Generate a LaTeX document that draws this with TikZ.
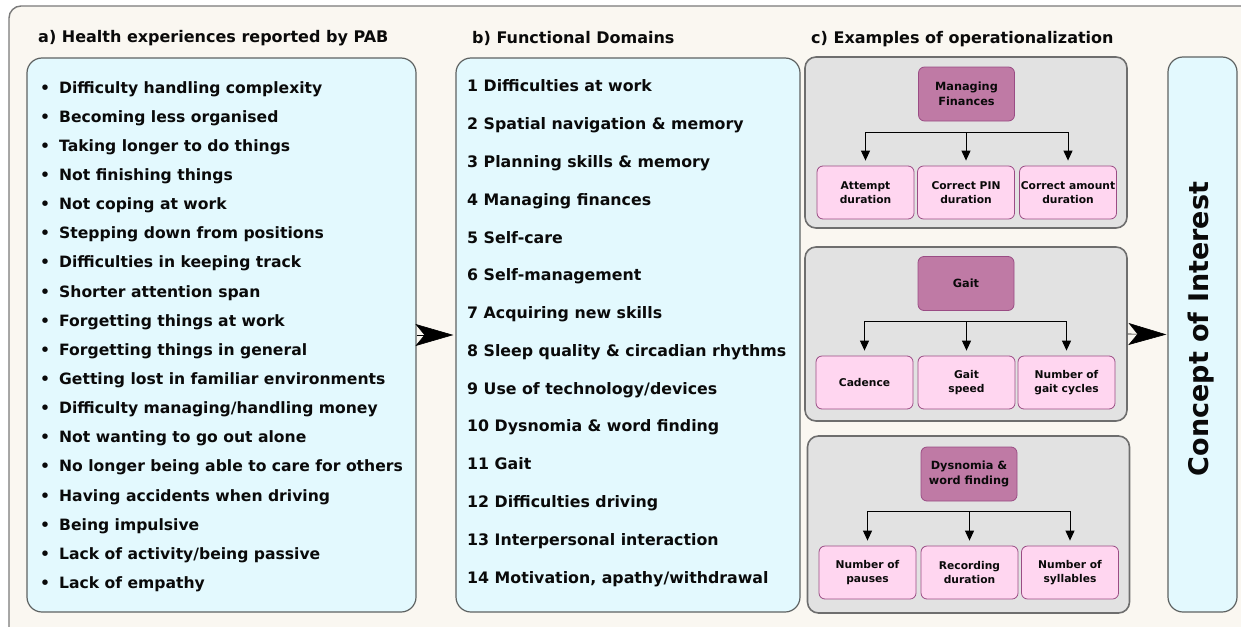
\documentclass[tikz,border=0pt]{standalone}
\usepackage{fontspec}
\setmainfont{DejaVu Sans}
\usetikzlibrary{arrows.meta}

\definecolor{cream}{HTML}{FAF7F1}
\definecolor{framegray}{HTML}{7A7A7A}
\definecolor{listfill}{HTML}{E3F9FE}
\definecolor{listline}{HTML}{5E6262}
\definecolor{panelfill}{HTML}{E2E2E2}
\definecolor{panelline}{HTML}{6E6E6E}
\definecolor{headfill}{HTML}{BF7AA5}
\definecolor{plumline}{HTML}{9A4C84}
\definecolor{childfill}{HTML}{FFD6F0}
\definecolor{ink}{HTML}{0A0A0A}

\tikzset{
  listbox/.style={draw=listline, fill=listfill, line width=1.2pt, rounded corners=15pt, inner sep=0pt},
  panel/.style={draw=panelline, fill=panelfill, line width=1.6pt, rounded corners=11pt,
    minimum width=322pt, inner sep=0pt},
  headbox/.style={draw=plumline, fill=headfill, line width=0.8pt, rounded corners=6pt,
    minimum width=96pt, minimum height=54pt, inner sep=0pt, align=center,
    font=\bfseries\fontsize{11.3}{14.5}\selectfont, text=ink},
  childbox/.style={draw=plumline, fill=childfill, line width=0.8pt, rounded corners=6pt,
    minimum width=97pt, minimum height=53pt, inner sep=0pt, align=center,
    font=\bfseries\fontsize{10.7}{13.5}\selectfont, text=ink},
  sectitle/.style={anchor=base west, inner sep=0pt, font=\bfseries\fontsize{16}{19}\selectfont, text=ink},
  bulletitem/.style={anchor=base west, inner sep=0pt, font=\bfseries\fontsize{15.6}{18}\selectfont, text=ink},
  domainitem/.style={anchor=base west, inner sep=0pt, font=\bfseries\fontsize{15.8}{18}\selectfont, text=ink},
  branch/.style={draw=black, line width=1pt},
  downtip/.style={draw=black, line width=1pt, -{Triangle[length=10pt,width=9pt]}, shorten >=5pt},
  bigarrow/.style={draw=black, line width=0.6pt, -{Stealth[length=38pt,width=22pt,inset=9pt]}}
}

\begin{document}
\begin{tikzpicture}[x=1pt,y=-1pt]
  \useasboundingbox (0,0) rectangle (1241,626);
  \clip (0,0) rectangle (1241,626);
  \fill[white] (0,0) rectangle (1241,626);
  % outer frame, running past the right and bottom edges
  \draw[draw=framegray, fill=cream, line width=1.4pt, rounded corners=12pt] (9,6) rectangle (1300,690);

  % section titles
  \node[sectitle] (ta) at (38,42) {a) Health experiences reported by PAB};
  \node[sectitle] (tb) at (472,44) {b) Functional Domains};
  \node[sectitle] (tc) at (811,44) {c) Examples of operationalization};

  % a) reported experiences
  \node[listbox, minimum width=389pt, minimum height=554pt] (lbox) at (221.5,335) {};
  \foreach \t [count=\i] in {Difficulty handling complexity, Becoming less organised,
      Taking longer to do things, Not finishing things, Not coping at work,
      Stepping down from positions, Difficulties in keeping track, Shorter attention span,
      Forgetting things at work, Forgetting things in general,
      Getting lost in familiar environments, Difficulty managing/handling money,
      Not wanting to go out alone, No longer being able to care for others,
      Having accidents when driving, Being impulsive, Lack of activity/being passive,
      Lack of empathy}
    \node[bulletitem] (exp\i) at (40,{93+29.15*(\i-1)}) {\makebox[19pt][l]{•}\t};

  % b) functional domains
  \node[listbox, minimum width=344pt, minimum height=554pt] (mbox) at (628,335) {};
  \foreach \t [count=\i] in {1 Difficulties at work, 2 Spatial navigation \& memory,
      3 Planning skills \& memory, 4 Managing finances, 5 Self-care, 6 Self-management,
      7 Acquiring new skills, 8 Sleep quality \& circadian rhythms,
      9 Use of technology/devices, 10 Dysnomia \& word finding, 11 Gait,
      12 Difficulties driving, 13 Interpersonal interaction,
      {14 Motivation, apathy/withdrawal}}
    \node[domainitem] (dom\i) at (467,{92+37.77*(\i-1)}) {\t};

  % c) operationalization panels
  \node[panel, minimum height=171pt] (p1) at (966,142.5) {};
  \node[panel, minimum height=174pt] (p2) at (966,334) {};
  \node[panel, minimum height=177pt] (p3) at (968.5,524.5) {};

  \node[headbox] (h1) at (966.5,94) {Managing\\Finances};
  \node[childbox] (c11) at (865.5,192.5) {Attempt\\duration};
  \node[childbox] (c12) at (966,192.5) {Correct PIN\\duration};
  \node[childbox] (c13) at (1068,192.5) {Correct amount\\duration};
  \coordinate (br1) at (966,132);

  \node[headbox] (h2) at (966,283.5) {Gait};
  \node[childbox] (c21) at (864.5,382.5) {Cadence};
  \node[childbox] (c22) at (966.5,382.5) {Gait\\speed};
  \node[childbox] (c23) at (1066.5,382.5) {Number of\\gait cycles};
  \coordinate (br2) at (966,321);

  \node[headbox] (h3) at (969,474) {Dysnomia \&\\word finding};
  \node[childbox] (c31) at (867.5,572.5) {Number of\\pauses};
  \node[childbox] (c32) at (969.5,572.5) {Recording\\duration};
  \node[childbox] (c33) at (1070,572.5) {Number of\\syllables};
  \coordinate (br3) at (969,511);

  \foreach \k in {1,2,3} {
    \draw[branch] (c\k1.north |- br\k) -- (c\k3.north |- br\k);
    \foreach \j in {1,2,3}
      \draw[downtip] (c\k\j.north |- br\k) -- (c\k\j.north);
  }

  % concept of interest
  \node[listbox, minimum width=69pt, minimum height=555pt] (coi) at (1202.5,334.5) {};
  \node[rotate=90, inner sep=0pt, font=\bfseries\fontsize{27}{30}\selectfont, text=ink] (coit) at (1201,329) {Concept of Interest};

  % flow between the columns
  \draw[bigarrow, shorten >=2pt] (lbox.east) -- (mbox.west);
  \draw[bigarrow, shorten >=1pt] (p2.east) -- (coi.west);
\end{tikzpicture}
\end{document}
